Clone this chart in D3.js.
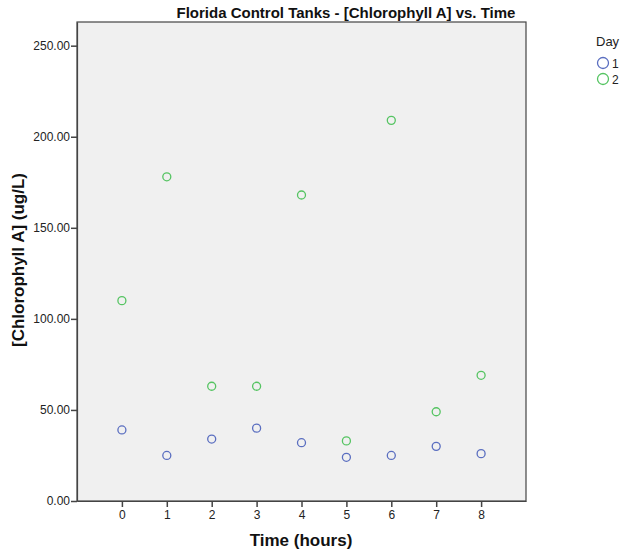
<!DOCTYPE html>
<html>
<head>
<meta charset="utf-8">
<script src="https://cdn.jsdelivr.net/npm/d3@7"></script>
<style>
  body { margin: 0; background: #fff; }
  text { font-family: Arial, "Liberation Sans", sans-serif; }
</style>
</head>
<body>
<div id="chart"></div>
<script>
// Chart data
const hours = [0, 1, 2, 3, 4, 5, 6, 7, 8];
const day1 = [39, 25, 34, 40, 32, 24, 25, 30, 26];
const day2 = [110, 178, 63, 63, 168, 33, 209, 49, 69];
const yTicks = [0, 50, 100, 150, 200, 250];
const days = ["1", "2"];
const dayColors = ["#5a6ec0", "#55c462"];

const width = 625, height = 552;
const margin = { top: 22, right: 99, bottom: 51, left: 77 };

const svg = d3.select("#chart")
    .append("svg")
    .attr("width", width)
    .attr("height", height);

const x = d3.scaleLinear()
    .domain([-1, 9])
    .range([margin.left, width - margin.right]);

const y = d3.scaleLinear()
    .domain([0, 263])
    .range([height - margin.bottom, margin.top]);

// plot background
svg.append("rect")
    .attr("x", margin.left)
    .attr("y", margin.top)
    .attr("width", width - margin.left - margin.right)
    .attr("height", height - margin.top - margin.bottom)
    .attr("fill", "#f0f0f0")
    .attr("stroke", "#444")
    .attr("stroke-width", 1.2);

// axes
const xAxis = svg.append("g")
    .attr("transform", `translate(0,${height - margin.bottom})`)
    .call(d3.axisBottom(x).tickValues(hours).tickSizeInner(6).tickSizeOuter(0).tickPadding(3).tickFormat(d3.format("d")));

const yAxis = svg.append("g")
    .attr("transform", `translate(${margin.left},0)`)
    .call(d3.axisLeft(y).tickValues(yTicks).tickSizeInner(6).tickSizeOuter(0).tickPadding(1).tickFormat(d3.format(".2f")));

[xAxis, yAxis].forEach(function(a) {
    a.select(".domain").attr("stroke", "#444").attr("stroke-width", 1.2);
    a.selectAll(".tick line").attr("stroke", "#444").attr("stroke-width", 1.5);
    a.selectAll(".tick text")
        .attr("fill", "#222")
        .style("font-size", "12px")
        .style("font-family", "Arial, 'Liberation Sans', sans-serif");
});

// points
const series = [day1, day2];
series.forEach(function(vals, i) {
    svg.append("g")
        .selectAll("circle")
        .data(vals)
        .enter()
        .append("circle")
        .attr("cx", function(d, j) { return x(hours[j]); })
        .attr("cy", function(d) { return y(d); })
        .attr("r", 4)
        .attr("fill", "none")
        .attr("stroke", dayColors[i])
        .attr("stroke-width", 1.3);
});

// title + axis labels
svg.append("text")
    .attr("x", 346)
    .attr("y", 18)
    .attr("text-anchor", "middle")
    .style("font-size", "15px")
    .style("font-weight", "bold")
    .attr("fill", "#111")
    .text("Florida Control Tanks - [Chlorophyll A] vs. Time");

svg.append("text")
    .attr("x", 301)
    .attr("y", 546)
    .attr("text-anchor", "middle")
    .style("font-size", "17px")
    .style("font-weight", "bold")
    .attr("fill", "#111")
    .text("Time (hours)");

svg.append("text")
    .attr("transform", "translate(24,260) rotate(-90)")
    .attr("text-anchor", "middle")
    .style("font-size", "17px")
    .style("font-weight", "bold")
    .attr("fill", "#111")
    .text("[Chlorophyll A] (ug/L)");

// legend
const legend = svg.append("g");
legend.append("text")
    .attr("x", 596)
    .attr("y", 46)
    .style("font-size", "13px")
    .attr("fill", "#222")
    .text("Day");

days.forEach(function(d, i) {
    legend.append("circle")
        .attr("cx", 603)
        .attr("cy", 63 + i * 16)
        .attr("r", 5.5)
        .attr("fill", "none")
        .attr("stroke", dayColors[i])
        .attr("stroke-width", 1.3);
    legend.append("text")
        .attr("x", 612)
        .attr("y", 67.5 + i * 16)
        .style("font-size", "12px")
        .attr("fill", "#222")
        .text(d);
});
</script>
</body>
</html>
